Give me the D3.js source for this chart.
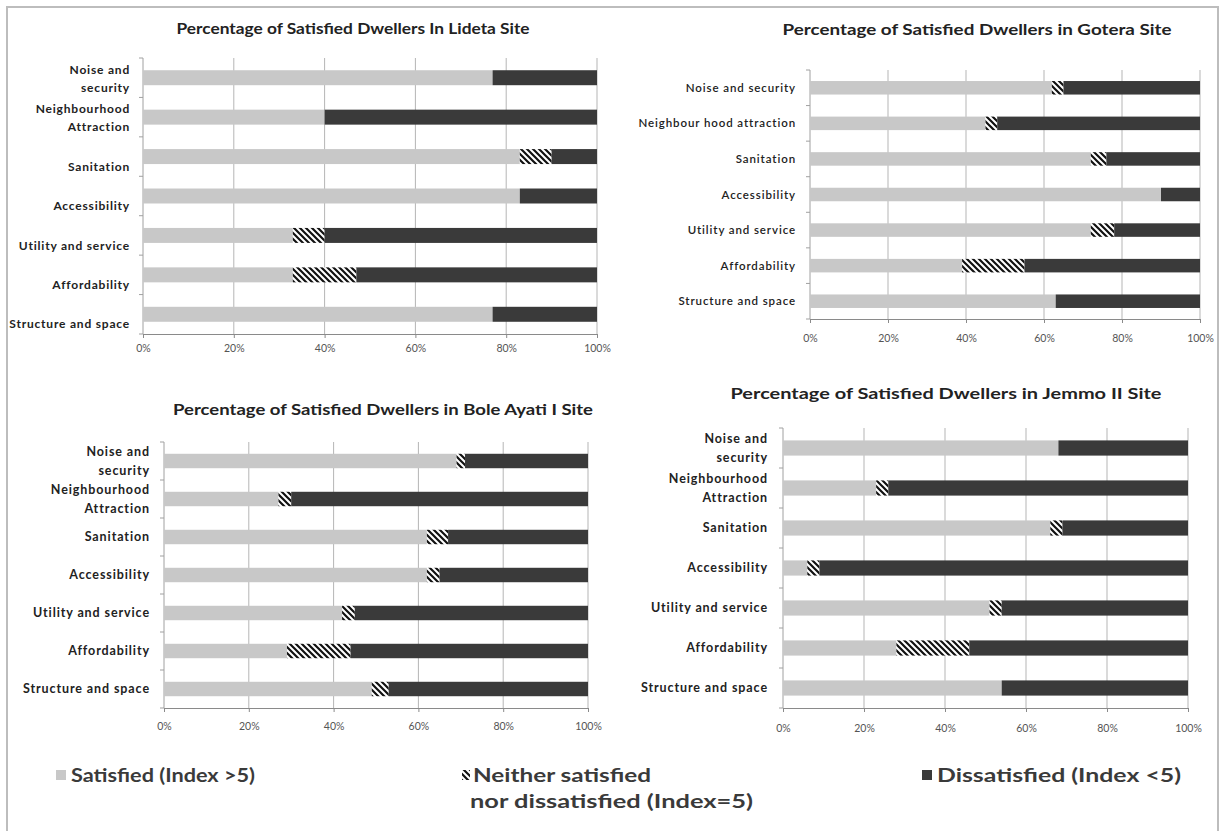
<!DOCTYPE html>
<html><head><meta charset="utf-8">
<script src="https://cdn.jsdelivr.net/npm/d3@7"></script>
<style>body{margin:0;background:#fff}svg{display:block}</style>
</head><body>
<svg id="c" width="1224" height="831"></svg>
<script>
// ---- data ----
const titles = [
  "Percentage of Satisfied Dwellers In Lideta Site",
  "Percentage of Satisfied Dwellers in Gotera Site",
  "Percentage of Satisfied Dwellers in  Bole Ayati I Site",
  "Percentage of Satisfied Dwellers in Jemmo II Site"
];
const categoriesLideta = [["Noise and","security"],["Neighbourhood","Attraction"],["Sanitation"],["Accessibility"],["Utility and service"],["Affordability"],["Structure and space"]];
const categoriesGotera = [["Noise and security"],["Neighbour hood attraction"],["Sanitation"],["Accessibility"],["Utility and service"],["Affordability"],["Structure and space"]];
const categoriesBole = [["Noise and","security"],["Neighbourhood","Attraction"],["Sanitation"],["Accessibility"],["Utility and service"],["Affordability"],["Structure and space"]];
const categoriesJemmo = [["Noise and","security"],["Neighbourhood","Attraction"],["Sanitation"],["Accessibility"],["Utility and service"],["Affordability"],["Structure and space"]];

const lidetaSatisfied    = [77, 40, 83, 83, 33, 33, 77];
const lidetaNeutral      = [ 0,  0,  7,  0,  7, 14,  0];
const lidetaDissatisfied = [23, 60, 10, 17, 60, 53, 23];

const goteraSatisfied    = [62, 45, 72, 90, 72, 39, 63];
const goteraNeutral      = [ 3,  3,  4,  0,  6, 16,  0];
const goteraDissatisfied = [35, 52, 24, 10, 22, 45, 37];

const boleSatisfied      = [69, 27, 62, 62, 42, 29, 49];
const boleNeutral        = [ 2,  3,  5,  3,  3, 15,  4];
const boleDissatisfied   = [29, 70, 33, 35, 55, 56, 47];

const jemmoSatisfied     = [68, 23, 66,  6, 51, 28, 54];
const jemmoNeutral       = [ 0,  3,  3,  3,  3, 18,  0];
const jemmoDissatisfied  = [32, 74, 31, 91, 46, 54, 46];

const xTicks = [0, 20, 40, 60, 80, 100];
const legendLabels = ["Satisfied (Index >5)", ["Neither satisfied", "nor dissatisfied (Index=5)"], "Dissatisfied (Index <5)"];

// ---- layout ----
const panels = [
  {cats: categoriesLideta, s: lidetaSatisfied, n: lidetaNeutral, d: lidetaDissatisfied,
   x0:143, x1:597, y0:58, y1:334, lr:130, lblShift:10, tickY:352, tx:353, ty:34, tw:353, lbold:true, lsize:12, lspace:0.8, lh:18},
  {cats: categoriesGotera, s: goteraSatisfied, n: goteraNeutral, d: goteraDissatisfied,
   x0:810, x1:1200, y0:70, y1:319, lr:796, lblShift:0, tickY:342, tx:977, ty:35, tw:389, lbold:false, lsize:11.5, lspace:0.9, lh:18},
  {cats: categoriesBole, s: boleSatisfied, n: boleNeutral, d: boleDissatisfied,
   x0:164, x1:588, y0:442, y1:708, lr:150, lblShift:0, tickY:730, tx:383, ty:415, tw:420, lbold:true, lsize:12.5, lspace:0.9, lh:19},
  {cats: categoriesJemmo, s: jemmoSatisfied, n: jemmoNeutral, d: jemmoDissatisfied,
   x0:783, x1:1188, y0:428, y1:708, lr:768, lblShift:0, tickY:732, tx:946, ty:399, tw:431, lbold:true, lsize:12.5, lspace:0.9, lh:19}
];

const FONT = "Lato, 'Open Sans', sans-serif";
const colSat = "#c8c8c8", colDis = "#3a3a3a";

const svg = d3.select("#c");
const defs = svg.append("defs");
const pat = defs.append("pattern").attr("id","hatch").attr("patternUnits","userSpaceOnUse")
  .attr("width",6).attr("height",6);
pat.append("rect").attr("width",6).attr("height",6).attr("fill","#fff");
pat.append("path").attr("d","M-1,-1 L7,7 M-4,2 L2,8 M4,-2 L8,2")
  .attr("stroke","#111").attr("stroke-width",2.2);

// outer frame
svg.append("path").attr("d","M7,831 L7,7 L1218,7 L1218,831")
  .attr("fill","none").attr("stroke","#bdbdbd").attr("stroke-width",2);

panels.forEach((p, i) => {
  const g = svg.append("g");
  const x = d3.scaleLinear().domain([0,100]).range([p.x0, p.x1]);
  const y = d3.scaleBand().domain(d3.range(p.cats.length)).range([p.y0, p.y1]).paddingInner(0.62).paddingOuter(0.31);
  const yb = d3.scaleBand().domain(d3.range(p.cats.length)).range([p.y0, p.y1]);

  // gridlines
  g.selectAll(".grid").data(xTicks.slice(1)).join("line")
    .attr("x1", d => x(d)).attr("x2", d => x(d)).attr("y1", p.y0).attr("y2", p.y1)
    .attr("stroke","#b5b5b5").attr("stroke-width",1);

  // y axis with ticks at category boundaries
  g.append("line").attr("x1",x(0)).attr("x2",x(0)).attr("y1",p.y0).attr("y2",p.y1)
    .attr("stroke","#a0a0a0");
  g.selectAll(".yt").data(d3.range(p.cats.length+1)).join("line")
    .attr("x1", x(0)-4).attr("x2", x(0))
    .attr("y1", k => p.y0 + k*yb.step()).attr("y2", k => p.y0 + k*yb.step())
    .attr("stroke","#a0a0a0");

  // x axis
  const ax = g.append("g").attr("transform",`translate(0,${p.y1})`)
    .call(d3.axisBottom(x).tickValues(xTicks).tickSize(4).tickFormat(d => d + "%"));
  ax.select(".domain").attr("stroke","#8a8a8a");
  ax.selectAll(".tick line").attr("stroke","#8a8a8a");
  ax.selectAll(".tick text").attr("y", p.tickY - p.y1 - 4).attr("dy","0.35em")
    .attr("font-family",FONT).attr("font-size",10.5).attr("fill","#555");

  // stacked bars
  const rows = p.cats.map((c, k) => ({k, s: p.s[k], n: p.n[k], d: p.d[k]}));
  const stack = d3.stack().keys(["s","n","d"])(rows);
  const fills = {s: colSat, n: "url(#hatch)", d: colDis};
  stack.forEach(layer => {
    g.selectAll(null).data(layer.filter(r => r[1] - r[0] > 0)).join("rect")
      .attr("x", r => x(r[0])).attr("width", r => x(r[1]) - x(r[0]))
      .attr("y", r => y(r.data.k)).attr("height", y.bandwidth())
      .attr("fill", fills[layer.key]);
  });

  // category labels
  p.cats.forEach((lines, k) => {
    const cy = yb(k) + yb.bandwidth()/2;
    const lh = p.lh;
    lines.forEach((t, j) => {
      let ty;
      if (p.lblShift) ty = cy + p.lblShift - (lines.length-1-j)*lh;
      else ty = cy + (j - (lines.length-1)/2) * lh;
      g.append("text").attr("x", p.lr).attr("y", ty).attr("dy","0.35em")
        .attr("text-anchor","end").attr("font-family",FONT)
        .attr("font-size", p.lsize).attr("font-weight", p.lbold ? 700 : 600)
        .attr("letter-spacing", p.lspace || 0)
        .attr("fill","#222").text(t);
    });
  });

  // title
  svg.append("text").attr("x", p.tx).attr("y", p.ty).attr("text-anchor","middle")
    .attr("font-family",FONT).attr("font-weight",700).attr("font-size",15)
    .attr("textLength", p.tw).attr("lengthAdjust","spacingAndGlyphs")
    .attr("fill","#222").text(titles[i]);
});

// legend
const lg = svg.append("g").attr("font-family",FONT).attr("font-weight",700).attr("font-size",19).attr("fill","#3a3a3a");
lg.append("rect").attr("x",56).attr("y",770).attr("width",10).attr("height",10).attr("fill",colSat);
lg.append("text").attr("x",71).attr("y",782).attr("textLength",184).attr("lengthAdjust","spacingAndGlyphs").text(legendLabels[0]);
lg.append("rect").attr("x",462).attr("y",770).attr("width",8).attr("height",10).attr("fill","url(#hatch)");
lg.append("text").attr("x",473).attr("y",782).attr("textLength",178).attr("lengthAdjust","spacingAndGlyphs").text(legendLabels[1][0]);
lg.append("text").attr("x",470).attr("y",808).attr("textLength",283).attr("lengthAdjust","spacingAndGlyphs").text(legendLabels[1][1]);
lg.append("rect").attr("x",922).attr("y",770).attr("width",10).attr("height",10).attr("fill",colDis);
lg.append("text").attr("x",937).attr("y",782).attr("textLength",244).attr("lengthAdjust","spacingAndGlyphs").text(legendLabels[2]);
</script>
</body></html>
